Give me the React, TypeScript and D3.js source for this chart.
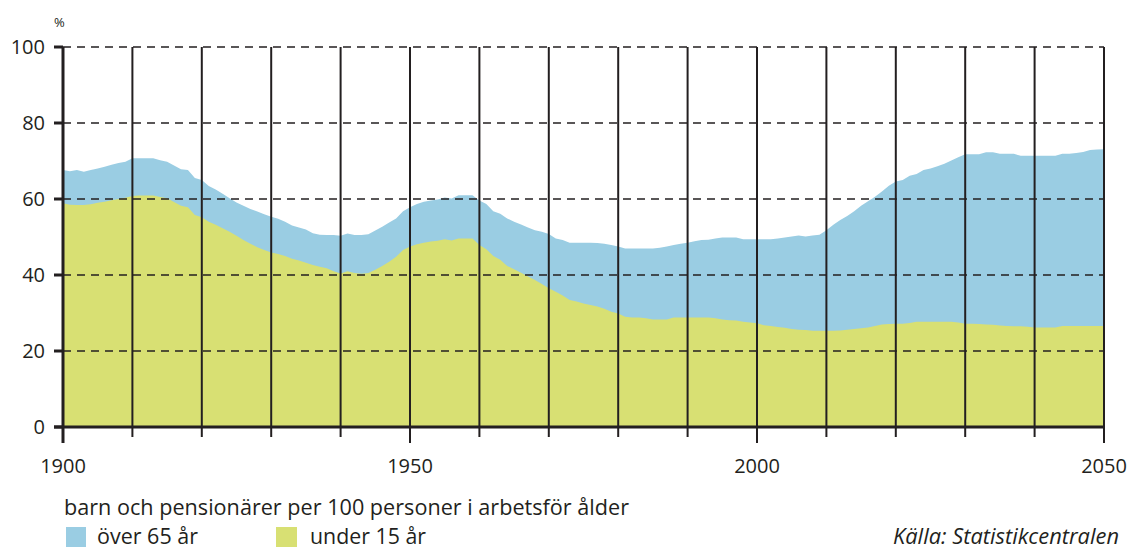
import React from 'react';
import * as d3 from 'd3';

const width = 1129;
const height = 550;
const margin = { top: 47, right: 25, bottom: 123, left: 63 };

const startYear = 1900;
// barn + pensionärer per 100 personer i arbetsför ålder, one value per year 1900-2050
const total = [
  67.6, 67.3, 67.6, 67.2, 67.6, 68.0, 68.5, 69.0, 69.5, 69.8,
  70.7, 70.7, 70.7, 70.7, 70.2, 69.8, 68.8, 67.8, 67.6, 65.5,
  65.0, 63.4, 62.5, 61.4, 60.2, 59.1, 58.2, 57.4, 56.7, 56.0,
  55.3, 54.8, 54.0, 53.0, 52.5, 52.0, 51.0, 50.6, 50.5, 50.5,
  50.3, 50.9, 50.5, 50.5, 50.7, 51.7, 52.7, 53.8, 54.9, 56.8,
  57.8, 58.7, 59.3, 59.6, 59.9, 60.4, 60.1, 61.0, 61.0, 61.0,
  59.6, 58.7, 56.8, 56.1, 54.9, 54.0, 53.3, 52.5, 51.8, 51.4,
  50.8, 49.6, 49.2, 48.5, 48.5, 48.5, 48.5, 48.4, 48.2, 47.9,
  47.5, 47.0, 47.0, 47.0, 47.0, 47.0, 47.2, 47.5, 47.9, 48.2,
  48.5, 48.9, 49.2, 49.3, 49.6, 49.9, 49.9, 49.9, 49.4, 49.4,
  49.4, 49.4, 49.4, 49.6, 49.9, 50.1, 50.4, 50.1, 50.4, 50.6,
  51.8, 53.2, 54.5, 55.5, 56.8, 58.2, 59.4, 60.6, 62.0, 63.5,
  64.6, 65.0, 66.1, 66.6, 67.6, 68.0, 68.6, 69.3, 70.1, 71.0,
  71.8, 71.8, 71.8, 72.3, 72.3, 71.9, 71.9, 71.9, 71.4, 71.4,
  71.4, 71.4, 71.4, 71.4, 71.9, 71.9, 72.1, 72.4, 72.9, 73.0,
  73.1
];
// under 15 år
const under15 = [
  58.9, 58.5, 58.4, 58.4, 58.6, 59.0, 59.3, 59.7, 60.0, 60.3,
  60.8, 60.9, 60.9, 60.9, 60.5, 60.2, 59.2, 58.2, 57.8, 55.8,
  55.2, 54.0, 53.2, 52.3, 51.4, 50.3, 49.2, 48.2, 47.3, 46.6,
  45.9, 45.5, 45.0, 44.3, 43.8, 43.2, 42.6, 42.2, 41.8, 41.0,
  40.4, 41.0, 40.5, 40.3, 40.5, 41.4, 42.4, 43.5, 44.8, 46.6,
  47.5, 48.1, 48.5, 48.8, 49.0, 49.4, 49.1, 49.6, 49.6, 49.6,
  47.9, 46.8, 45.0, 44.0, 42.4, 41.5, 40.6, 39.6, 38.7, 37.6,
  36.5, 35.6, 34.6, 33.4, 33.0, 32.5, 32.1, 31.7, 31.1, 30.3,
  29.9, 29.0, 28.8, 28.8, 28.6, 28.3, 28.3, 28.3, 28.8, 28.8,
  28.8, 28.8, 28.8, 28.8, 28.6, 28.3, 28.1, 28.0, 27.7, 27.5,
  27.3, 26.8, 26.6, 26.3, 26.1, 25.8, 25.6, 25.5, 25.3, 25.3,
  25.3, 25.3, 25.4, 25.6, 25.8, 26.0, 26.2, 26.6, 27.0, 27.1,
  27.2, 27.2, 27.4, 27.7, 27.7, 27.7, 27.7, 27.7, 27.7, 27.5,
  27.2, 27.2, 27.1, 27.0, 26.9, 26.7, 26.6, 26.5, 26.5, 26.4,
  26.2, 26.2, 26.2, 26.2, 26.6, 26.6, 26.6, 26.6, 26.6, 26.6,
  26.6
];

const yTicks = [0, 20, 40, 60, 80, 100];
const decadeTicks = d3.range(1900, 2051, 10);
const labelYears = [1900, 1950, 2000, 2050];

const blue = '#9acde3';
const yellow = '#d8e073';
const ink = '#231f20';
const font = '"Open Sans", sans-serif';

function App() {
  const x = d3.scaleLinear().domain([1900, 2050]).range([margin.left, width - margin.right]);
  const y = d3.scaleLinear().domain([0, 100]).range([height - margin.bottom, margin.top]);

  const rows = total.map((t, i) => ({ year: startYear + i, total: t, under15: under15[i] }));

  const totalArea = d3.area<any>()
    .x(d => x(d.year))
    .y0(y(0))
    .y1(d => y(d.total));
  const youngArea = d3.area<any>()
    .x(d => x(d.year))
    .y0(y(0))
    .y1(d => y(d.under15));

  const x0 = x(1900);
  const x1 = x(2050);

  return (
    <svg width={width} height={height} style={{ position: 'absolute', left: 0, top: 0, background: '#fff' }}>
      <path d={totalArea(rows) || ''} fill={blue} />
      <path d={youngArea(rows) || ''} fill={yellow} />

      {/* dashed horizontal grid */}
      {yTicks.filter(t => t > 0).map(t => (
        <line key={'h' + t} x1={x0} x2={x1} y1={y(t)} y2={y(t)}
          stroke={ink} strokeWidth={1.3} strokeDasharray="8,6" />
      ))}

      {/* decade lines + ticks below the axis */}
      {decadeTicks.map(d => (
        <line key={'v' + d} x1={x(d)} x2={x(d)} y1={y(100)}
          y2={y(0) + (labelYears.includes(d) ? 16 : 10)}
          stroke={ink} strokeWidth={d === 1900 ? 3 : 2} />
      ))}

      {/* y axis ticks */}
      {yTicks.map(t => (
        <line key={'yt' + t} x1={x0 - 9} x2={x0} y1={y(t)} y2={y(t)} stroke={ink} strokeWidth={3} />
      ))}
      <line x1={x0 - 9} x2={x1} y1={y(0)} y2={y(0)} stroke={ink} strokeWidth={3} />

      {yTicks.map(t => (
        <text key={'yl' + t} x={45} y={y(t)} dy="0.35em" textAnchor="end"
          fontFamily={font} fontSize={20} fill={ink}>{t}</text>
      ))}
      <text x={54} y={27} fontFamily={font} fontSize={13} fill={ink}>%</text>

      {labelYears.map(d => (
        <text key={'xl' + d} x={x(d)} y={473} textAnchor="middle"
          fontFamily={font} fontSize={20} fill={ink}>{d}</text>
      ))}

      {/* legend */}
      <text x={64} y={515} fontFamily={font} fontSize={21} fill={ink}
        textLength={565} lengthAdjust="spacingAndGlyphs">
        barn och pensionärer per 100 personer i arbetsför ålder
      </text>
      <rect x={66} y={527} width={20} height={20} fill={blue} />
      <text x={97} y={544} fontFamily={font} fontSize={21} fill={ink}
        textLength={101} lengthAdjust="spacingAndGlyphs">över 65 år</text>
      <rect x={276} y={527} width={21} height={20} fill={yellow} />
      <text x={310} y={544} fontFamily={font} fontSize={21} fill={ink}
        textLength={116} lengthAdjust="spacingAndGlyphs">under 15 år</text>
      <text x={1119} y={544} textAnchor="end" fontFamily={font} fontSize={21}
        fontStyle="italic" fill={ink} textLength={226} lengthAdjust="spacingAndGlyphs">Källa: Statistikcentralen</text>
    </svg>
  );
}

export default App;
